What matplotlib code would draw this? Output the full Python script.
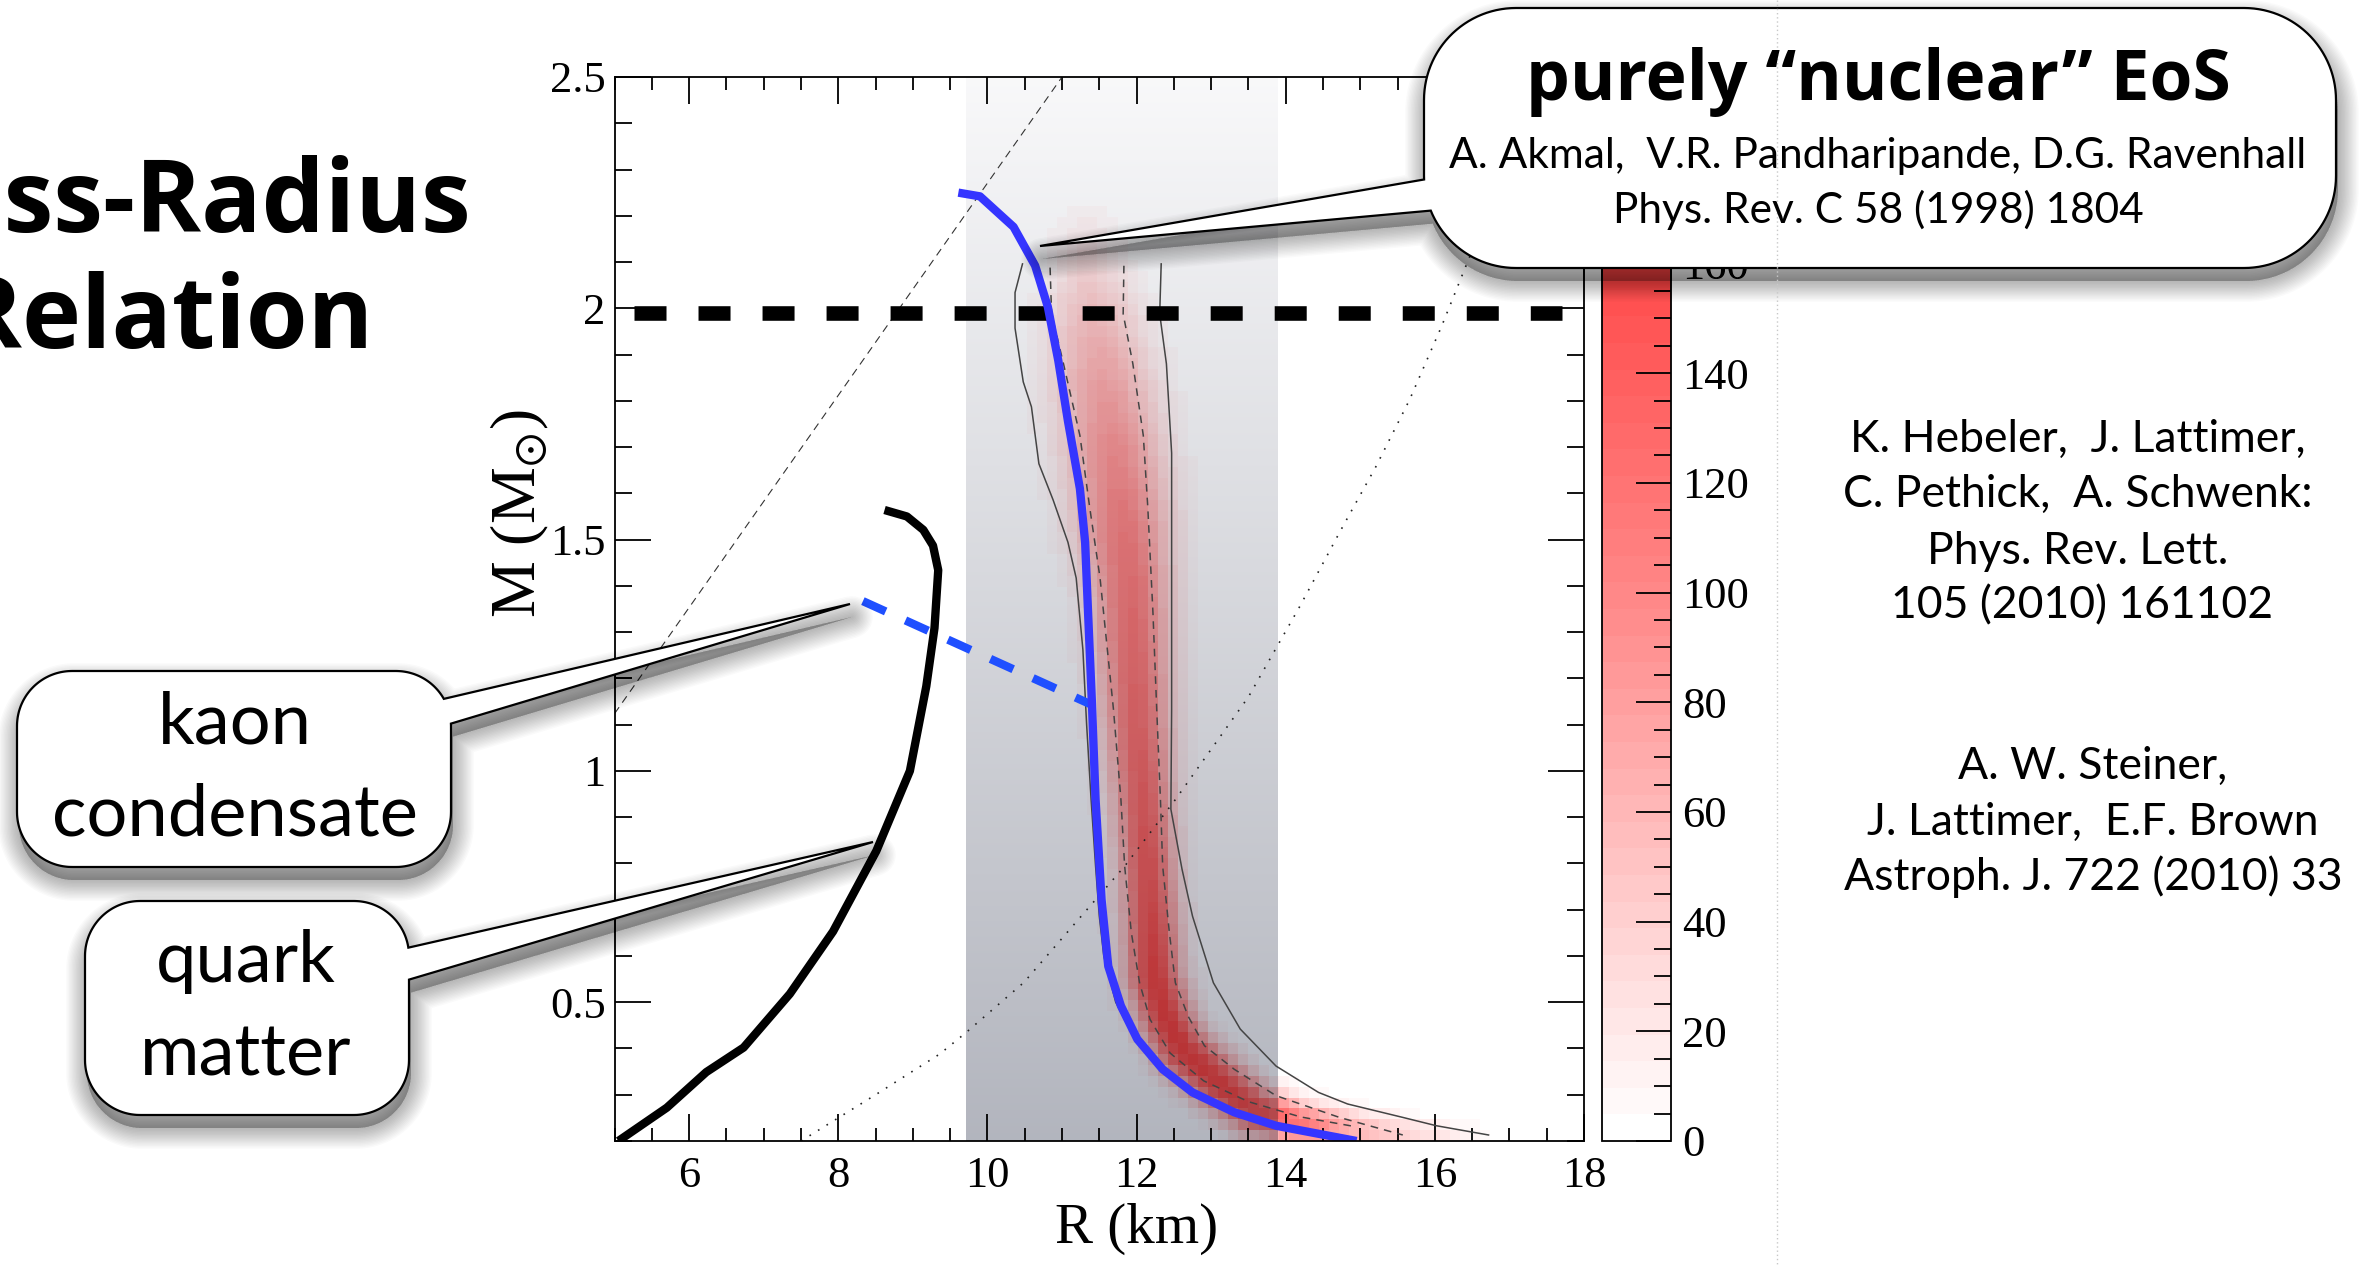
import numpy as np
import matplotlib
matplotlib.use('Agg')
import matplotlib.pyplot as plt
from matplotlib.colors import LinearSegmentedColormap, Normalize
from matplotlib.patches import Polygon
from matplotlib.ticker import MultipleLocator, FuncFormatter
import matplotlib.cm as cm

# ---- data (R in km, M in solar masses) ----
# purely nuclear EoS (APR), thick blue
ap_R = [9.61, 9.90, 10.35, 10.64, 10.81, 10.95, 11.08, 11.24, 11.31, 11.35, 11.40,
        11.45, 11.53, 11.62, 11.79, 12.01, 12.35, 12.75, 13.31, 13.87, 14.95]
ap_M = [2.25, 2.242, 2.176, 2.092, 2.003, 1.887, 1.756, 1.61, 1.494, 1.34, 1.151,
        0.938, 0.722, 0.578, 0.492, 0.42, 0.355, 0.305, 0.262, 0.233, 0.2]

# kaon condensate branch, blue dashed
kaon_R = [8.33, 11.37]
kaon_M = [1.367, 1.145]

# quark matter, thick black
quark_R = [5.05, 5.70, 6.23, 6.73, 7.35, 7.93, 8.51, 8.96, 9.18, 9.29, 9.34, 9.27, 9.14, 8.92, 8.62]
quark_M = [0.20, 0.272, 0.349, 0.402, 0.518, 0.653, 0.827, 1.0, 1.183, 1.309, 1.434, 1.487, 1.521, 1.55, 1.564]

# 1.97 Msun pulsar line
psr_R = [5.26, 17.71]
psr_M = [1.99, 1.99]

# causality limit (thin dashed) and dotted reference curve
caus_R = [5.0, 11.0]
caus_M = [1.124, 2.5]
dot_R = [7.50, 8.50, 9.36, 9.71, 10.49, 11.22, 11.84, 12.52, 13.50, 14.19, 14.72, 15.21, 15.66, 16.09, 16.44, 16.80]
dot_M = [0.200, 0.300, 0.388, 0.434, 0.543, 0.679, 0.794, 0.938, 1.160, 1.356, 1.515, 1.658, 1.802, 1.961, 2.101, 2.24]

# outer (solid) and inner (dashed) contours of the Hebeler et al. band
outL_R = [10.47, 10.37, 10.37, 10.48, 10.59, 10.69, 10.88, 11.08, 11.19, 11.28, 11.33, 11.39, 11.45, 11.50,
          11.56, 11.72, 11.95, 12.30, 12.80, 13.40, 14.20]
outL_M = [2.096, 2.034, 1.957, 1.841, 1.787, 1.664, 1.586, 1.494, 1.417, 1.262, 1.10, 0.938, 0.794, 0.686,
          0.60, 0.50, 0.43, 0.36, 0.30, 0.258, 0.225]
outR_R = [12.33, 12.31, 12.40, 12.47, 12.47, 12.47, 12.46, 12.61, 12.75, 13.03, 13.39, 13.87, 14.44, 14.83,
          15.57, 16.02, 16.72]
outR_M = [2.096, 1.988, 1.88, 1.687, 1.494, 1.133, 0.917, 0.787, 0.686, 0.542, 0.442, 0.362, 0.305, 0.28,
          0.251, 0.233, 0.213]
inL_R = [10.84, 10.86, 11.02, 11.24, 11.37, 11.51, 11.69, 11.79, 11.84, 11.93, 12.04, 12.18, 12.45, 12.90,
         13.50, 14.20, 14.90]
inL_M = [2.088, 1.988, 1.88, 1.725, 1.571, 1.417, 1.133, 0.938, 0.794, 0.65, 0.542, 0.463, 0.39, 0.33,
         0.285, 0.252, 0.232]
inR_R = [11.83, 11.82, 11.95, 12.09, 12.15, 12.22, 12.27, 12.32, 12.35, 12.44, 12.52, 12.69, 12.91, 13.31,
         13.87, 14.72, 15.57]
inR_M = [2.092, 1.988, 1.88, 1.725, 1.571, 1.34, 1.133, 0.938, 0.794, 0.65, 0.542, 0.47, 0.406, 0.355,
         0.298, 0.251, 0.213]

# ridge of the probability band: centre, peak value and width (km)
band_R = [11.30, 11.40, 11.52, 11.68, 11.80, 11.90, 12.00, 12.07, 12.15, 12.22, 12.40, 12.60, 13.10, 13.55,
          14.20, 15.00, 15.80, 16.50]
band_M = [2.15, 2.00, 1.86, 1.70, 1.55, 1.40, 1.10, 0.94, 0.76, 0.557, 0.46, 0.398, 0.326, 0.269,
          0.235, 0.22, 0.21, 0.205]
band_amp = [15, 45, 65, 85, 100, 110, 120, 128, 140, 160, 165, 165, 160, 150, 115, 60, 30, 12]
band_sig = [0.30, 0.42, 0.45, 0.44, 0.42, 0.36, 0.30, 0.27, 0.25, 0.25, 0.24, 0.24, 0.24, 0.22,
            0.20, 0.18, 0.16, 0.15]
vmax = 194

# grey band of allowed radii
grey_lo, grey_hi = 9.71, 13.89

plt.rcParams['font.family'] = ['Liberation Serif', 'DejaVu Serif']
plt.rcParams['mathtext.fontset'] = 'stix'

W, H = 2362, 1265
fig = plt.figure(figsize=(W / 100, H / 100), dpi=100)
ax = fig.add_axes([614.6 / W, 1 - 1141 / H, (1584 - 614.6) / W, (1141 - 77) / H])

heat = LinearSegmentedColormap.from_list('heat', [(0, '#ffffff'), (0.5, '#ff8a8a'), (1, '#ff2a2a')])
heat_d = heat.resampled(40)
norm = Normalize(0, vmax)

# density on coarse cells (pixelated like the original)
dR, dM = 0.135, 0.0235
S = 463 / 74.6
ci = np.arange(-35, 62)
cj = np.arange(0, 98)
RC, MC = np.meshgrid(grey_lo + (ci + 0.5) * dR, 0.2 + (cj + 0.5) * dM)
P = np.stack([RC, MC * S], -1)
A = np.column_stack([band_R, np.array(band_M) * S])
best_d2 = np.full(RC.shape, np.inf)
best_s = np.zeros(RC.shape)
for k in range(len(A) - 1):
    a, b = A[k], A[k + 1]
    ab = b - a
    t = np.clip(((P - a) @ ab) / (ab @ ab), 0, 1)
    d2 = ((P - (a + t[..., None] * ab)) ** 2).sum(-1)
    m = d2 < best_d2
    best_d2 = np.where(m, d2, best_d2)
    best_s = np.where(m, k + t, best_s)
amp = np.interp(best_s, np.arange(len(A)), band_amp)
sig = np.interp(best_s, np.arange(len(A)), band_sig)
dens = amp * np.exp(-0.5 * best_d2 / sig ** 2)

nx, ny = 970, 1064
rr = 5 + (np.arange(nx) + 0.5) * 13 / nx
mm = 0.2 + (np.arange(ny) + 0.5) * 2.3 / ny
ix = np.clip(np.floor((rr - grey_lo) / dR).astype(int) + 35, 0, len(ci) - 1)
iy = np.clip(np.floor((mm - 0.2) / dM).astype(int), 0, len(cj) - 1)
D = dens[iy[:, None], ix[None, :]]

top = np.array([0.975, 0.975, 0.98])
bot = np.array([0.70, 0.71, 0.745])
g = top + (bot - top) * ((2.5 - mm) / 2.3)[:, None]
bg = np.ones((ny, nx, 3))
inband = (rr >= grey_lo) & (rr <= grey_hi)
bg[:, inband, :] = g[:, None, :]
img = heat_d(norm(D))[..., :3] * bg
ax.imshow(img, extent=(5, 18, 0.2, 2.5), origin='lower', aspect='auto', interpolation='nearest', zorder=0)

# curves
ax.plot(caus_R, caus_M, color='#333333', lw=0.8, dashes=(7, 5))
ax.plot(dot_R, dot_M, color='#222222', lw=1.2, dashes=(1, 5))
ax.plot(outL_R, outL_M, color='#444444', lw=1.1)
ax.plot(outR_R, outR_M, color='#444444', lw=1.1)
ax.plot(inL_R, inL_M, color='#444444', lw=1.1, dashes=(5, 4))
ax.plot(inR_R, inR_M, color='#444444', lw=1.1, dashes=(5, 4))
ax.plot(psr_R, psr_M, color='black', lw=10.5, dashes=(2.195, 2.195), dash_capstyle='butt')
ax.plot(quark_R, quark_M, color='black', lw=6, solid_capstyle='butt')
ax.plot(kaon_R, kaon_M, color='#1f4fff', lw=6, dashes=(3, 2.6), dash_capstyle='butt')
ax.plot(ap_R, ap_M, color='#3535ff', lw=6, solid_capstyle='butt')

ax.set_xlim(5, 18)
ax.set_ylim(0.2, 2.5)
ax.xaxis.set_major_locator(MultipleLocator(2))
ax.xaxis.set_minor_locator(MultipleLocator(0.5))
ax.yaxis.set_major_locator(MultipleLocator(0.5))
ax.yaxis.set_minor_locator(MultipleLocator(0.1))
ax.yaxis.set_major_formatter(FuncFormatter(lambda v, p: f'{v:g}'))
ax.tick_params(which='both', direction='in', top=True, right=True, width=1.3, labelsize=32)
ax.tick_params(axis='x', which='major', length=19.5, pad=11)
ax.tick_params(axis='x', which='minor', length=9.5)
ax.tick_params(axis='y', which='major', length=26, pad=6.5)
ax.tick_params(axis='y', which='minor', length=12.5)
for sp in ax.spines.values():
    sp.set_linewidth(1.3)
ax.set_xlabel('R (km)', fontsize=41)
ax.xaxis.set_label_coords(0.538, -0.058)
ax.set_ylabel(r'M (M$_{\odot}$)', fontsize=46)
ax.yaxis.set_label_coords(-0.066, 0.59)

# colour bar
cax = fig.add_axes([1602 / W, 1 - 1141 / H, 69 / W, (1141 - 77) / H])
cb = fig.colorbar(cm.ScalarMappable(norm=norm, cmap=heat_d), cax=cax)
cb.outline.set_linewidth(1.3)
cb.set_ticks(np.arange(0, 161, 20))
cax.yaxis.set_minor_locator(MultipleLocator(5))
cax.tick_params(which='both', direction='in', left=False, right=True, width=1.3, labelsize=32, pad=8)
cax.tick_params(which='major', length=25)
cax.tick_params(which='minor', length=12)

# overlay in pixel coordinates for the slide texts and call-outs
ov = fig.add_axes([0, 0, 1, 1], zorder=10)
ov.set_xlim(0, W)
ov.set_ylim(H, 0)
ov.axis('off')
ov.patch.set_alpha(0)

ov.plot([1777, 1777], [0, H], color='#c8c8c8', lw=1, dashes=(1, 2))


def outline(x0, y0, x1, y1, r, n=30):
    pts = []
    for cx, cy, a0 in [(x1 - r, y0 + r, -90), (x1 - r, y1 - r, 0), (x0 + r, y1 - r, 90), (x0 + r, y0 + r, 180)]:
        t = np.radians(np.linspace(a0, a0 + 90, n))
        pts.append(np.column_stack([cx + r * np.cos(t), cy + r * np.sin(t)]))
    pts = np.vstack(pts)
    closed = np.vstack([pts, pts[:1]])
    s = np.concatenate([[0], np.cumsum(np.hypot(*np.diff(closed, axis=0).T))])
    u = np.arange(0, s[-1], 2.0)
    return np.column_stack([np.interp(u, s, closed[:, 0]), np.interp(u, s, closed[:, 1])])


def callout(box, r, a1, a2, tip):
    pts = outline(*box, r)
    i1 = np.argmin(np.hypot(*(pts - np.array(a1)).T))
    i2 = np.argmin(np.hypot(*(pts - np.array(a2)).T))
    i, j = sorted((i1, i2))
    shape = np.vstack([pts[:i + 1], [tip], pts[j:]])
    # soft drop shadow
    for lw in range(30, 0, -2):
        ov.add_patch(Polygon(shape + [2, 13], closed=True, fc=(0, 0, 0, 0.02), ec=(0, 0, 0, 0.02),
                             lw=lw, joinstyle='round'))
    ov.add_patch(Polygon(shape, closed=True, fc='white', ec='black', lw=1.6, joinstyle='miter'))


callout((1424, 8, 2336, 268), 92, (1424, 180), (1432, 211), (1040, 246))
callout((17, 671, 451, 867), 55, (445, 699), (453, 723), (850, 604))
callout((85, 901, 409, 1115), 55, (409, 947), (410, 980), (873, 842))

sans = ['Lato', 'DejaVu Sans']
bold = ['Open Sans', 'DejaVu Sans']
ov.text(471, 232, 'Mass-Radius', ha='right', va='baseline', fontsize=72, fontweight='bold', family=bold)
ov.text(373, 348, 'Relation', ha='right', va='baseline', fontsize=72, fontweight='bold', family=bold)

ov.text(1878, 100, 'purely \u201cnuclear\u201d EoS', ha='center', va='baseline', fontsize=50,
        fontweight='bold', family=bold)
ov.text(1878, 168, 'A. Akmal,  V.R. Pandharipande, D.G. Ravenhall', ha='center', va='baseline',
        fontsize=30.5, family=sans)
ov.text(1878, 223, 'Phys. Rev. C 58 (1998) 1804', ha='center', va='baseline', fontsize=30.5, family=sans)

ov.text(235, 743, 'kaon', ha='center', va='baseline', fontsize=52, family=sans)
ov.text(235, 836, 'condensate', ha='center', va='baseline', fontsize=52, family=sans)
ov.text(246, 982, 'quark', ha='center', va='baseline', fontsize=52, family=sans)
ov.text(246, 1076, 'matter', ha='center', va='baseline', fontsize=52, family=sans)

refs = [('K. Hebeler,  J. Lattimer,', 452, 2078), ('C. Pethick,  A. Schwenk:', 507, 2078),
        ('Phys. Rev. Lett.', 564, 2078), ('105 (2010) 161102', 618, 2082),
        ('A. W. Steiner,', 779, 2093), ('J. Lattimer,  E.F. Brown', 835, 2093),
        ('Astroph. J. 722 (2010) 33', 890, 2093)]
for txt, yb, xc in refs:
    ov.text(xc, yb, txt, ha='center', va='baseline', fontsize=32, family=sans)

fig.savefig('out.png', dpi=100)
